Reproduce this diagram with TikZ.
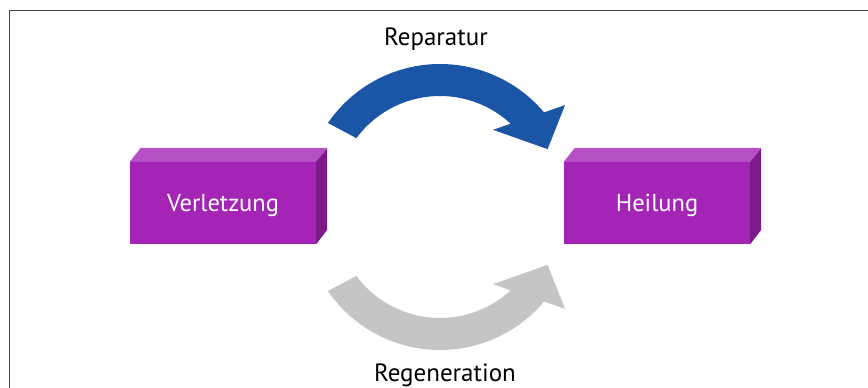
\documentclass[tikz,border=0pt]{standalone}
\usepackage{fontspec}
\setmainfont{PT Sans}
\definecolor{frontc}{HTML}{A424B6}
\definecolor{topc}{HTML}{B550C4}
\definecolor{sidec}{HTML}{7D1A8A}
\definecolor{bluec}{HTML}{1B55A5}
\definecolor{grayc}{HTML}{C4C6C5}
\definecolor{framec}{HTML}{444444}
\newcommand\myArrowShape{(145.5:136) arc[start angle=145.5,end angle=40.1,radius=136] -- (37.2:157) -- (25.3:119) -- (52.9:88) -- (47.2:104) arc[start angle=47.2,end angle=143.5,radius=104] -- cycle}
\begin{document}
\begin{tikzpicture}[x=1pt,y=1pt,
  boxnode/.style={fill=frontc, minimum width=186pt, minimum height=82pt, inner sep=0pt,
    text=white, font=\fontsize{24.5}{28}\selectfont, text height=18pt, text depth=0pt},
  lbl/.style={font=\fontsize{25}{30}\selectfont, text=black, inner sep=0pt, anchor=base}]
\useasboundingbox (0,0) rectangle (868,388);
\fill[white] (0,0) rectangle (868,388);
\draw[framec, line width=1.5pt] (9.5,0) -- (9.5,377.5) -- (868,377.5);
% boxes
\node[boxnode] (verl) at (223,185) {Verletzung};
\fill[topc] (verl.north west) -- ++(11,14) -- ++(186,0) -- (verl.north east) -- cycle;
\fill[sidec] (verl.north east) -- ++(11,14) -- ++(0,-82) -- (verl.south east) -- cycle;
\node[boxnode] (heil) at (657,185) {Heilung};
\fill[topc] (heil.north west) -- ++(11,14) -- ++(186,0) -- (heil.north east) -- cycle;
\fill[sidec] (heil.north east) -- ++(11,14) -- ++(0,-82) -- (heil.south east) -- cycle;
% arrows
\begin{scope}[shift={(440,188)}]
\fill[bluec] \myArrowShape;
\end{scope}
\begin{scope}[shift={(440,174)}, yscale=-1]
\fill[grayc] \myArrowShape;
\end{scope}
% labels
\node[lbl] (rep) at (436,342) {Reparatur};
\node[lbl] (reg) at (445,6) {Regeneration};
\end{tikzpicture}
\end{document}
